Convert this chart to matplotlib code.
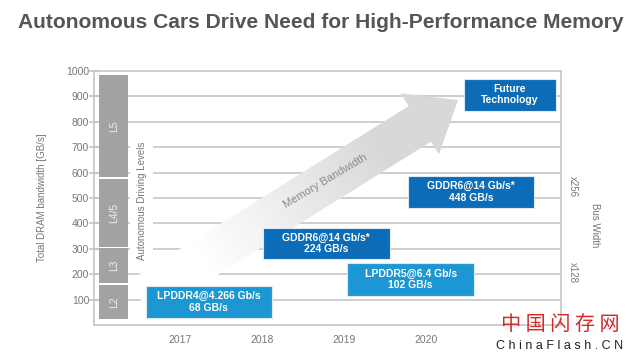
import matplotlib
matplotlib.use("Agg")
import matplotlib.pyplot as plt
import numpy as np
from matplotlib.patches import Rectangle, Polygon
from matplotlib.transforms import Affine2D

# ---- data ----
years = [2017, 2018, 2019, 2020]
y_ticks = [100, 200, 300, 400, 500, 600, 700, 800, 900, 1000]

levels = ['L2', 'L3', 'L4/5', 'L5']
level_lo = [24, 165, 307, 583]
level_hi = [157, 303, 575, 984]

mem_names = ['LPDDR4@4.266 Gb/s', 'GDDR6@14 Gb/s*', 'LPDDR5@6.4 Gb/s', 'GDDR6@14 Gb/s*', 'Future\nTechnology']
mem_bw = ['68 GB/s', '224 GB/s', '102 GB/s', '448 GB/s', '']
mem_kind = ['lp', 'gd', 'lp', 'gd', 'gd']
# box placement (year, GB/s)
box_x0 = [2016.58, 2018.01, 2019.04, 2019.78, 2020.46]
box_x1 = [2018.12, 2019.56, 2020.59, 2021.32, 2021.59]
box_y0 = [28, 260, 114, 461, 843]
box_y1 = [153, 382, 244, 587, 969]

bus_width = ['x128', 'x256']
bus_y = [205, 545]

W, H = 637, 360
LP_BLUE = '#1c97d4'
GD_BLUE = '#0c6cb8'
GRID = '#c6c6c6'
LEVEL_GRAY = '#a3a3a3'
TXT = '#777777'

plt.rcParams['font.family'] = ['Liberation Sans', 'DejaVu Sans']

fig = plt.figure(figsize=(W / 100, H / 100), dpi=100)
fig.patch.set_facecolor('white')
ax = fig.add_axes([94 / W, 35 / H, (561 - 94) / W, (325 - 71) / H])
ax.set_xlim(2015.95, 2021.65)
ax.set_ylim(0, 1000)

# pixel transform for decorations
px = Affine2D().scale(1 / W, -1 / H).translate(0, 1) + fig.transFigure

for s in ax.spines.values():
    s.set_color(GRID)
    s.set_linewidth(1.2)

ax.set_yticks(y_ticks)
ax.set_yticklabels([str(v) for v in y_ticks], fontsize=7.5, color=TXT)
ax.tick_params(axis='y', direction='inout', length=7, color=GRID, width=1.2, pad=0)
ax.set_xticks(years)
ax.set_xticklabels([str(y) for y in years], fontsize=7.5, color=TXT)
ax.tick_params(axis='x', length=0, pad=7)
ax.set_ylabel('Total DRAM bandwidth [GB/s]', fontsize=7, color=TXT, labelpad=14)

for v in y_ticks[:-1]:
    ax.axhline(v, color=GRID, lw=1.2, zorder=1)

# memory bandwidth arrow with gradient
tip = np.array([458.0, 100.0])
ang = np.deg2rad(32)
u = np.array([np.cos(ang), -np.sin(ang)])
n = np.array([np.sin(ang), np.cos(ang)])
head_len, head_hw, body_hw = 45, 36, 21
base = tip - head_len * u
tail = base - ((base[0] - 140) / u[0]) * u
pts = [tail + body_hw * n, base + body_hw * n, base + head_hw * n, tip,
       base - head_hw * n, base - body_hw * n, tail - body_hw * n]
arrow = Polygon(pts, closed=True, transform=px, facecolor='none', edgecolor='none')
ax.add_patch(arrow)
gx, gy = np.meshgrid(np.arange(W), np.arange(H))
s = ((gx - tail[0]) * u[0] + (gy - tail[1]) * u[1]) / np.linalg.norm(tip - tail)
s = np.clip((s - 0.2) / 0.55, 0, 1)
shade = 1 - 0.15 * s
img = np.dstack([shade, shade, shade])
im = ax.imshow(img, extent=[0, W, H, 0], transform=px, zorder=2, interpolation='bilinear')
im.set_clip_path(arrow)
ax.set_aspect('auto')
ax.set_xlim(2015.95, 2021.65)
ax.set_ylim(0, 1000)
fig.text(325 / W, 1 - 181 / H, 'Memory Bandwidth', rotation=31, fontsize=8,
         color='#8a8a8a', ha='center', va='center')

# autonomous driving levels
for lab, lo, hi in zip(levels, level_lo, level_hi):
    ax.add_patch(Rectangle((2016.01, lo), 0.36, hi - lo, facecolor=LEVEL_GRAY,
                           edgecolor='none', zorder=3))
    ax.text(2016.19, (lo + hi) / 2, lab, rotation=90, fontsize=7.5, color='#eeeeee',
            ha='center', va='center', zorder=4)
ax.text(2016.53, 490, 'Autonomous Driving Levels', rotation=90, fontsize=7, color=TXT,
        ha='center', va='center', zorder=4,
        bbox=dict(facecolor='white', edgecolor='none', pad=5))

# memory boxes
for name, bw, kind, x0, x1, y0, y1 in zip(mem_names, mem_bw, mem_kind, box_x0, box_x1, box_y0, box_y1):
    c = LP_BLUE if kind == 'lp' else GD_BLUE
    ax.add_patch(Rectangle((x0, y0), x1 - x0, y1 - y0, facecolor=c, edgecolor='#dfe9f2',
                           lw=0.8, zorder=5))
    label = name if not bw else name + '\n' + bw
    ax.text((x0 + x1) / 2, (y0 + y1) / 2, label, fontsize=7.5, fontweight='bold',
            color='white', ha='center', va='center', linespacing=1.15, zorder=6)

# bus width labels on the right
for lab, v in zip(bus_width, bus_y):
    ax.text(2021.80, v, lab, rotation=270, fontsize=7, color=TXT, ha='center',
            va='center', clip_on=False)
ax.text(2022.07, 392, 'Bus Width', rotation=270, fontsize=7, color=TXT, ha='center',
        va='center', clip_on=False)

# title, fitted to the width it takes in the picture
title = fig.text(18 / W, 1 - 23 / H, 'Autonomous Cars Drive Need for High-Performance Memory',
                 fontsize=15, fontweight='bold', color='#555555', ha='left', va='center')
fig.canvas.draw()
tw = title.get_window_extent().width
title.set_fontsize(15 * 609 / tw)

# watermark
fig.text(560 / W, 1 - 325 / H, '中 国 闪 存 网', fontsize=14.5, color='#d42a2a',
         ha='center', va='center', family=['Noto Sans CJK SC', 'DejaVu Sans'])
fig.text(560 / W, 1 - 346 / H, 'C h i n a F l a s h . C N', fontsize=9, color='#222222',
         ha='center', va='center')

fig.savefig('out.png', dpi=100)
